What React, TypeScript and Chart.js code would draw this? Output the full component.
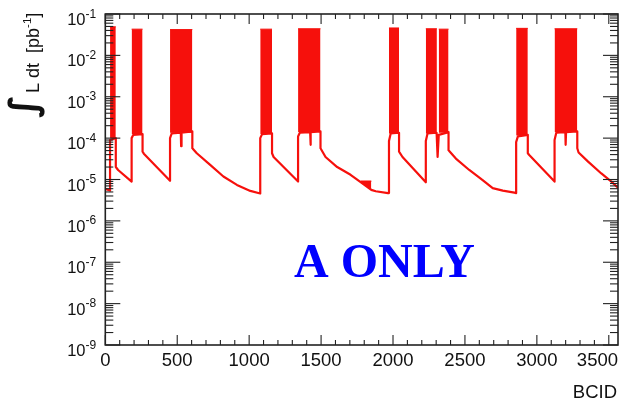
import React, { useEffect, useRef } from "react";
import { Chart, registerables } from "chart.js";

Chart.register(...registerables);

// ---------- axis data ----------
const X_MAX = 3564;
const xTickValues = [0, 500, 1000, 1500, 2000, 2500, 3000, 3500];
const xMinorStep = 100;
const yTickExponents = [-1, -2, -3, -4, -5, -6, -7, -8, -9];
const xTitle = "BCID";
const annotationText = "A ONLY";

// ---------- afterglow / trough line (BCID, integrated lumi) ----------
const lineBcid = [
  0, 33, 33, 73, 73, 89, 183,
  183, 195, 259, 259, 268, 450,
  450, 462, 525, 527, 530, 605, 605, 636, 729, 821, 915, 1008, 1077,
  1077, 1090, 1159, 1159, 1170, 1340,
  1340, 1352, 1424, 1426, 1429, 1496, 1496, 1531, 1612, 1705, 1775, 1849, 1880, 1965, 1972,
  1972, 1984, 2042, 2042, 2066, 2228,
  2228, 2240, 2303, 2310, 2318, 2386, 2386, 2437, 2530, 2623, 2693, 2763, 2844, 2856,
  2856, 2868, 2937, 2937, 2947, 3123,
  3123, 3135, 3198, 3200, 3203, 3281, 3281, 3290, 3356, 3448, 3518, 3564,
];
const lineValue = [
  5.9e-6, 5.4e-6, 9.0e-5, 1.0e-4, 2.0e-5, 1.7e-5, 8.9e-6,
  1.0e-4, 1.2e-4, 1.25e-4, 4.7e-5, 4.2e-5, 9.3e-6,
  1.0e-4, 1.3e-4, 1.35e-4, 6.4e-5, 1.35e-4, 1.45e-4, 5.7e-5, 4.3e-5, 2.25e-5, 1.18e-5, 7.4e-6, 5.3e-6, 4.6e-6,
  1.0e-4, 1.25e-4, 1.3e-4, 4.3e-5, 3.5e-5, 8.9e-6,
  1.1e-4, 1.35e-4, 1.4e-4, 6.9e-5, 1.4e-4, 1.45e-4, 5.7e-5, 3.5e-5, 2.0e-5, 1.3e-5, 8.6e-6, 5.6e-6, 5.2e-6, 4.7e-6, 4.7e-6,
  8.5e-5, 1.3e-4, 1.35e-4, 4.7e-5, 3.5e-5, 8.6e-6,
  8.5e-5, 1.3e-4, 1.35e-4, 3.5e-5, 1.2e-4, 1.4e-4, 5.1e-5, 3.2e-5, 1.7e-5, 9.7e-6, 6.2e-6, 5.4e-6, 4.8e-6, 4.7e-6,
  8.0e-5, 1.1e-4, 1.2e-4, 4.3e-5, 3.9e-5, 8.9e-6,
  9.0e-5, 1.35e-4, 1.4e-4, 6.9e-5, 1.4e-4, 1.45e-4, 5.7e-5, 4.5e-5, 2.7e-5, 1.4e-5, 8.9e-6, 6.3e-6,
];

// ---------- bunch trains (dense filled-bunch oscillation) ----------
const trainStart = [33, 183, 450, 1077, 1340, 1972, 2228, 2318, 2856, 3123];
const trainEnd = [73, 259, 605, 1159, 1496, 2042, 2305, 2386, 2937, 3281];
const trainPeak = [0.049, 0.043, 0.042, 0.043, 0.044, 0.046, 0.044, 0.043, 0.045, 0.044];
const trainTrough = [1.0e-4, 1.25e-4, 1.35e-4, 1.25e-4, 1.4e-4, 1.3e-4, 1.3e-4, 1.35e-4, 1.15e-4, 1.4e-4];

// small satellite block
const bumpBcid = [1775, 1849];
const bumpValue = [9.1e-6, 9.1e-6];

const RED = "rgb(246,16,12)";
const SANS = '"Liberation Sans", Arial, Helvetica, sans-serif';
const INK = "#111";

const rootStyle = {
  id: "rootStyle",
  afterDatasetsDraw(chart: any) {
    const { ctx, chartArea: a, scales } = chart;
    const xs = scales.x;
    const ys = scales.y;
    ctx.save();
    ctx.strokeStyle = "#222";
    ctx.lineWidth = 1.1;
    const seg = (x1: number, y1: number, x2: number, y2: number) => {
      ctx.beginPath();
      ctx.moveTo(x1, y1);
      ctx.lineTo(x2, y2);
      ctx.stroke();
    };
    for (let v = 0; v <= X_MAX; v += xMinorStep) {
      const px = xs.getPixelForValue(v);
      const len = xTickValues.includes(v) ? 10 : 5;
      seg(px, a.bottom, px, a.bottom - len);
      seg(px, a.top, px, a.top + len);
    }
    const expMin = Math.min(...yTickExponents);
    const expMax = Math.max(...yTickExponents);
    for (let e = expMin; e <= expMax; e++) {
      for (let m = 1; m < 10; m++) {
        if (e === expMax && m > 1) break;
        const py = ys.getPixelForValue(m * Math.pow(10, e));
        const len = m === 1 ? 15 : 8;
        seg(a.left, py, a.left + len, py);
        seg(a.right, py, a.right - len, py);
      }
    }
    ctx.lineWidth = 1.6;
    ctx.strokeRect(a.left, a.top, a.right - a.left, a.bottom - a.top);

    ctx.fillStyle = INK;
    ctx.font = `18.5px ${SANS}`;
    ctx.textBaseline = "alphabetic";
    ctx.textAlign = "left";
    for (const v of xTickValues) {
      const px = xs.getPixelForValue(v);
      const s = String(v);
      const w = ctx.measureText(s).width;
      let left = px - w / 2;
      if (left + w > a.right) left = a.right - w;
      ctx.fillText(s, left, a.bottom + 20.5);
    }
    for (const e of yTickExponents) {
      const py = ys.getPixelForValue(Math.pow(10, e));
      ctx.font = `16.5px ${SANS}`;
      ctx.textAlign = "right";
      ctx.fillText("10", 85.5, py + 11);
      ctx.font = `12px ${SANS}`;
      ctx.textAlign = "left";
      ctx.fillText(String(e), 85.5, py + 3.5);
    }
    ctx.font = `18.5px ${SANS}`;
    ctx.textAlign = "right";
    ctx.fillText(xTitle, a.right - 1, 398);

    // y title (rotated)
    ctx.save();
    ctx.translate(38.5, 116);
    ctx.rotate(-Math.PI / 2);
    ctx.textAlign = "left";
    ctx.font = `bold 38px "DejaVu Sans", sans-serif`;
    ctx.fillText("\u222B", -2, -3);
    ctx.font = `18px ${SANS}`;
    let x = 23;
    const main = "L dt  [pb";
    ctx.fillText(main, x, 0);
    x += ctx.measureText(main).width;
    ctx.font = `11.5px ${SANS}`;
    ctx.fillText("-1", x, -8);
    x += ctx.measureText("-1").width;
    ctx.font = `18px ${SANS}`;
    ctx.fillText("]", x, 0);
    ctx.restore();

    ctx.fillStyle = "#0000ff";
    ctx.font = `bold 48px "Liberation Serif", "Times New Roman", serif`;
    ctx.textAlign = "left";
    ctx.fillText(annotationText, 294, 276.5);
    ctx.restore();
  },
};

export default function App() {
  const ref = useRef<HTMLCanvasElement>(null);
  useEffect(() => {
    const lineData = lineBcid.map((b, i) => ({ x: b, y: lineValue[i] }));
    const trainSets = trainStart.map((s, i) => ({
      label: `train ${i + 1}`,
      data: [
        { x: s, y: trainPeak[i] },
        { x: trainEnd[i], y: trainPeak[i] },
      ],
      borderColor: RED,
      backgroundColor: RED,
      borderWidth: 1,
      pointRadius: 0,
      tension: 0,
      fill: { value: trainTrough[i] },
    }));
    const bumpSet = {
      label: "satellite",
      data: bumpBcid.map((b, i) => ({ x: b, y: bumpValue[i] })),
      borderColor: RED,
      backgroundColor: RED,
      borderWidth: 1.5,
      pointRadius: 0,
      tension: 0,
      fill: "0",
    };
    const chart = new Chart(ref.current as HTMLCanvasElement, {
      type: "line",
      data: {
        datasets: [
          {
            label: "lumi",
            data: lineData,
            borderColor: RED,
            backgroundColor: RED,
            borderWidth: 2.2,
            pointRadius: 0,
            tension: 0,
            fill: false,
            borderJoinStyle: "round",
          } as any,
          ...trainSets,
          bumpSet,
        ],
      },
      options: {
        animation: false,
        responsive: false,
        devicePixelRatio: 1,
        layout: { padding: { left: 105.3, top: 14, right: 13, bottom: 57 } },
        scales: {
          x: { type: "linear", min: 0, max: X_MAX, display: false },
          y: { type: "logarithmic", min: 1e-9, max: 1e-1, display: false },
        },
        plugins: {
          legend: { display: false },
          tooltip: { enabled: false },
          title: { display: false },
        },
        events: [],
      } as any,
      plugins: [rootStyle],
    });
    return () => chart.destroy();
  }, []);
  return (
    <div style={{ position: "absolute", left: 0, top: 0, width: 631, height: 402, background: "#fff" }}>
      <canvas ref={ref} width={631} height={402} style={{ display: "block", width: 631, height: 402 }} />
    </div>
  );
}
